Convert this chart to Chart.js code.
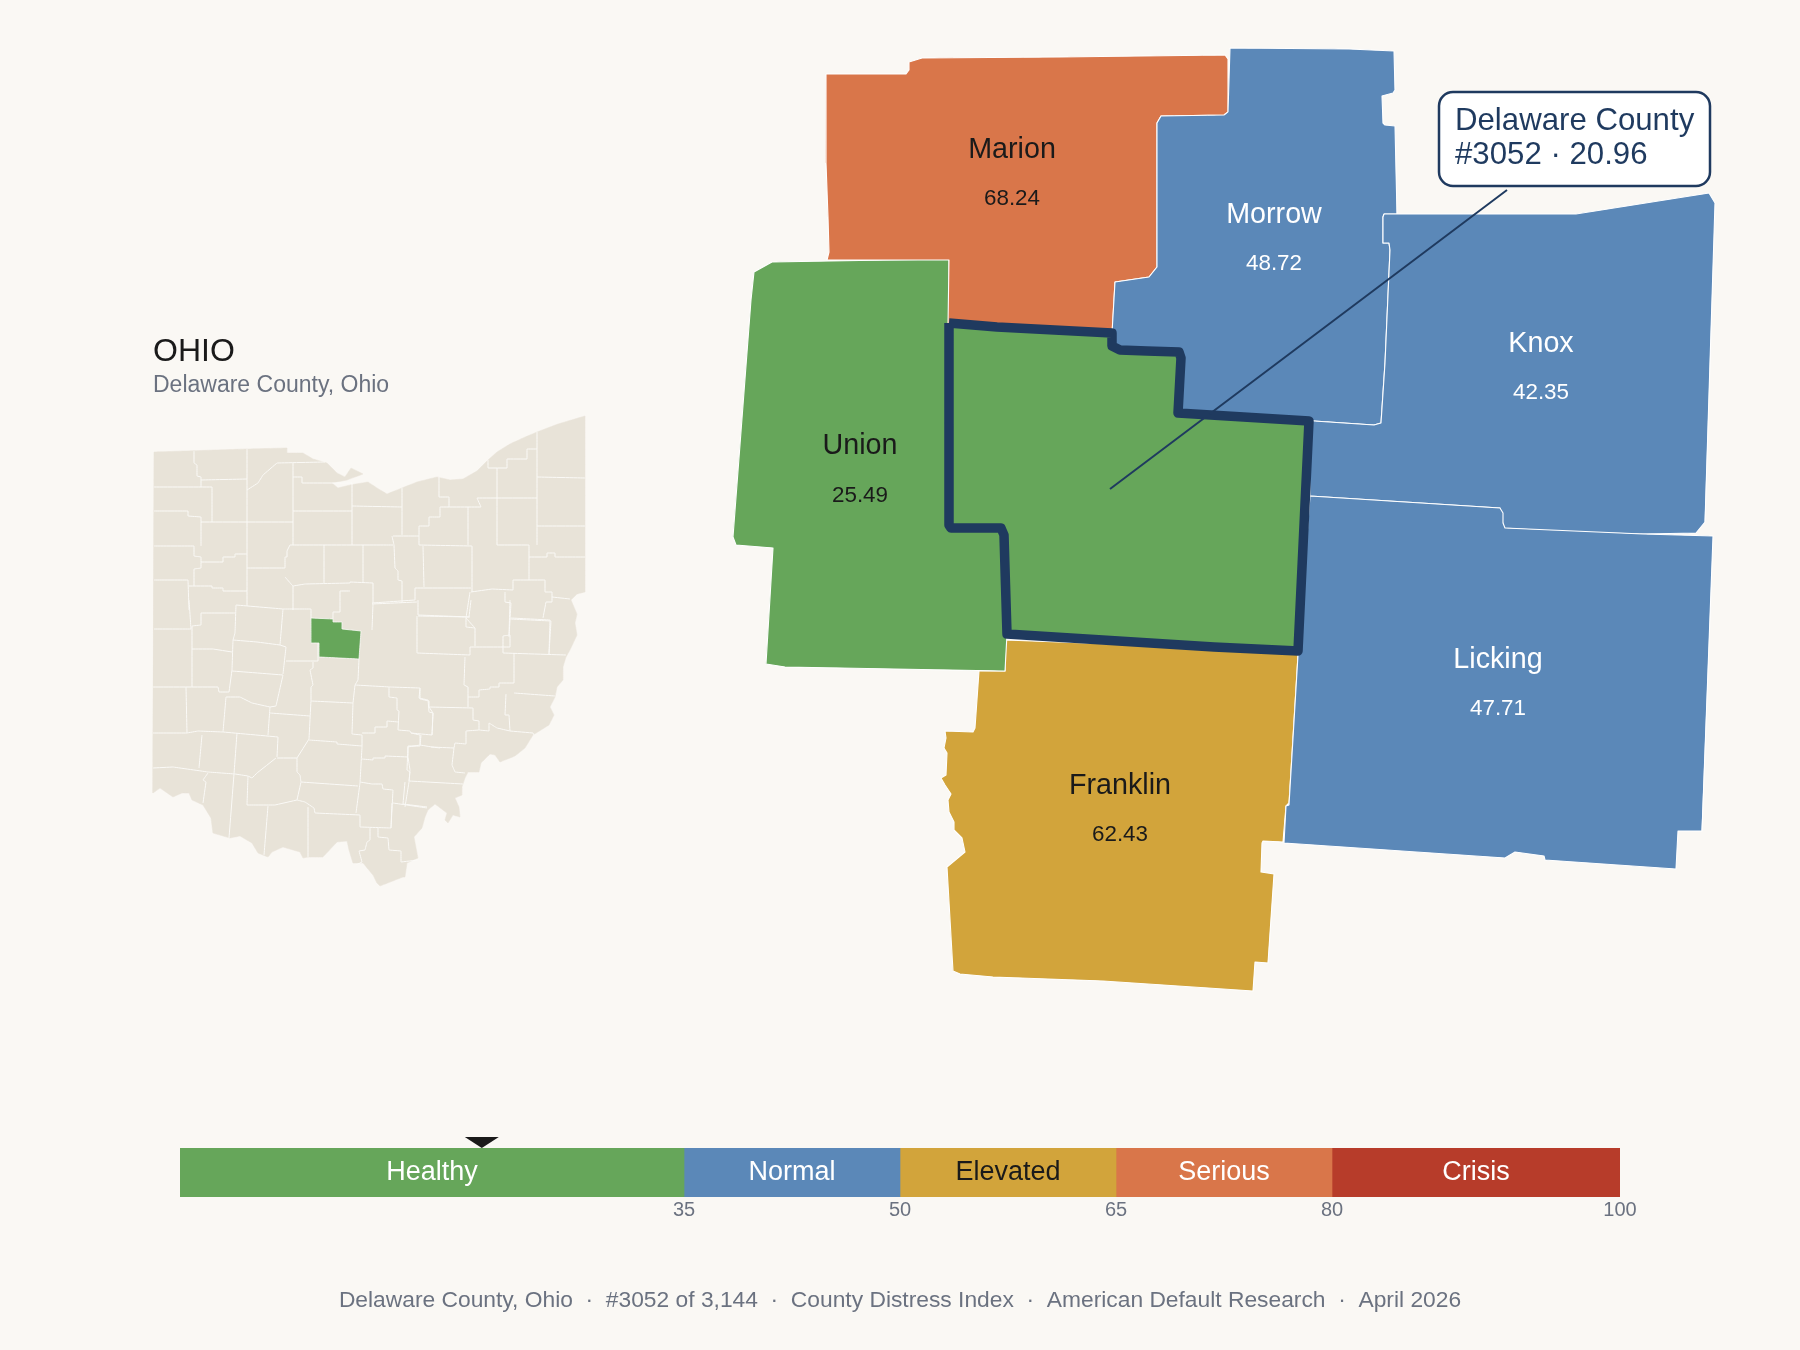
<!DOCTYPE html>
<html>
<head>
<meta charset="utf-8">
<title>Delaware County, Ohio</title>
<script src="https://cdn.jsdelivr.net/npm/chart.js@4"></script>
<style>
  html, body { margin: 0; padding: 0; background: #faf8f4; }
  #stage { position: relative; width: 1800px; height: 1350px; }
  canvas { position: absolute; left: 0; }
  #map { top: 0; }
  #bands { top: 1120px; }
</style>
</head>
<body>
<div id="stage">
  <canvas id="map" width="1800" height="1350"></canvas>
  <canvas id="bands" width="1800" height="110"></canvas>
</div>
<script>
// county names and scores
const countyNames = ['Franklin', 'Union', 'Marion', 'Morrow', 'Knox', 'Licking'];
const countyScores = [62.43, 25.49, 68.24, 48.72, 42.35, 47.71];

// bands of the index
const bandNames = ['Healthy', 'Normal', 'Elevated', 'Serious', 'Crisis'];
const bandWidths = [35, 15, 15, 15, 20];
const bandTicks = [35, 50, 65, 80, 100];
const delawareScore = 20.96;

// outlines, in picture units (0-1800, 0-1350)
const marionOutline = [[826,74],[906,74],[909,70],[909,62],[922,58],[1060,57],[1225,55],[1228,59],[1228,112],[1224,115],[1161,116],[1157,123],[1157,267],[1149,277],[1115,282],[1112,335],[948,325],[949,260],[827,260],[829,252],[828,217],[826,163],[826,74]];
const morrowOutline = [[1230,48],[1349,49],[1394,51],[1395,90],[1393,93],[1382,96],[1383,123],[1385,125],[1395,126],[1397,214],[1384,214],[1383,217],[1383,243],[1389,243],[1390,250],[1385,363],[1381,423],[1374,425],[1314,421],[1178,413],[1181,358],[1179,352],[1147,351],[1120,350],[1112,346],[1112,333],[1115,282],[1149,277],[1157,267],[1157,123],[1161,116],[1224,115],[1228,112],[1230,48]];
const knoxOutline = [[1384,214],[1576,214],[1709,193],[1715,203],[1705,522],[1696,533],[1643,534],[1569,532],[1504,528],[1502,520],[1500,508],[1310,496],[1309,421],[1314,421],[1374,425],[1381,423],[1385,363],[1390,250],[1389,243],[1383,243],[1383,217],[1384,214]];
const lickingOutline = [[1310,496],[1500,508],[1503,513],[1503,523],[1505,528],[1643,534],[1713,536],[1702,831],[1678,831],[1676,869],[1545,860],[1544,856],[1515,852],[1505,858],[1284,843],[1286,806],[1289,805],[1298,655],[1310,496]];
const unionOutline = [[754,272],[772,262],[948,259],[949,260],[949,525],[951,528],[1001,528],[1004,535],[1007,634],[1005,671],[1004,671],[785,667],[766,664],[773,548],[736,545],[733,537],[751,300],[754,272]];
const franklinOutline = [[1005,640],[1298,651],[1298,655],[1289,803],[1286,806],[1283,842],[1263,841],[1262,843],[1261,872],[1274,874],[1268,963],[1255,962],[1253,991],[1103,981],[993,977],[960,974],[953,971],[947,867],[965,852],[962,838],[954,830],[954,822],[949,812],[948,800],[951,794],[945,785],[941,778],[946,775],[947,753],[944,748],[946,738],[945,731],[973,732],[975,728],[979,671],[1005,671],[1005,640]];
const delawareOutline = [[949,323],[997,327],[1112,333],[1112,346],[1120,350],[1147,351],[1179,352],[1181,358],[1178,413],[1309,421],[1298,651],[1214,647],[1007,634],[1004,535],[1001,528],[951,528],[949,525],[949,323]];
const leaderLine = [[1110,489],[1507,190]];

// state locator map
const ohioOutline = [[154,452],[247,449],[287,448],[287,453],[303,453],[313,459],[327,463],[337,473],[345,477],[351,468],[363,474],[347,480],[332,483],[338,488],[350,485],[368,482],[377,488],[387,494],[402,488],[417,482],[437,477],[450,480],[463,479],[477,471],[488,460],[497,452],[510,444],[523,438],[537,432],[558,424],[585,416],[585,592],[577,594],[571,600],[577,614],[575,623],[577,635],[570,650],[566,657],[563,667],[563,680],[557,687],[555,697],[550,707],[554,715],[549,725],[533,735],[525,748],[515,756],[500,762],[495,755],[490,754],[481,763],[479,772],[468,772],[465,778],[462,787],[462,795],[455,798],[459,807],[460,817],[453,815],[448,823],[445,820],[447,813],[435,804],[428,810],[425,817],[422,828],[414,837],[418,858],[407,863],[405,877],[403,877],[380,886],[377,883],[373,875],[363,863],[353,863],[349,850],[347,841],[337,842],[323,857],[308,857],[303,858],[300,852],[283,847],[272,852],[268,857],[258,853],[252,843],[240,836],[230,838],[213,833],[211,818],[203,805],[192,800],[189,793],[182,793],[173,797],[160,788],[153,793],[154,452]];
const ohioDelaware = [[311,618],[333,619],[333,622],[342,622],[342,629],[361,631],[359,659],[319,657],[319,643],[311,643],[311,618]];
const ohioCountyLines = [
  [[194,451],[194,463],[197,465],[197,476],[201,477],[201,487]],
  [[154,487],[212,487],[212,522]],
  [[201,480],[247,479]],
  [[247,449],[247,606]],
  [[154,511],[188,511],[188,516],[201,517],[201,546]],
  [[201,522],[293,522]],
  [[154,546],[194,546],[194,556],[201,557],[201,568],[194,569],[194,586]],
  [[201,562],[223,562],[223,557],[235,557],[235,554],[247,554]],
  [[154,580],[188,580],[189,610]],
  [[189,586],[212,586],[212,588],[223,588],[223,591],[247,591]],
  [[247,568],[285,568],[285,557],[287,557],[287,551],[290,545],[393,545]],
  [[247,490],[258,483],[263,475],[277,463],[325,462]],
  [[293,463],[293,545]],
  [[293,477],[302,477],[302,483],[352,483]],
  [[293,511],[352,511]],
  [[352,483],[352,545]],
  [[352,506],[402,507]],
  [[402,488],[402,535]],
  [[392,536],[394,545],[395,568],[398,571],[398,580],[402,581],[402,603]],
  [[324,545],[324,583]],
  [[363,545],[363,582]],
  [[285,577],[292,585],[293,586],[305,584],[350,583],[350,582],[373,583],[373,603],[372,604],[417,602]],
  [[293,586],[293,610]],
  [[350,591],[340,591],[340,612],[333,612],[333,619]],
  [[488,460],[488,468],[507,468],[507,459],[527,459],[527,449],[537,449]],
  [[537,432],[537,545]],
  [[537,477],[585,478]],
  [[537,526],[585,526]],
  [[497,468],[497,545]],
  [[477,498],[537,498]],
  [[477,498],[481,507],[440,507],[440,517],[429,517],[429,526],[419,526],[419,536],[393,536]],
  [[439,477],[439,497],[449,497],[449,507]],
  [[468,507],[468,545]],
  [[419,536],[419,545],[472,546],[472,592]],
  [[497,545],[529,545],[529,580]],
  [[529,557],[547,557],[547,553],[555,553],[555,557],[585,557]],
  [[423,546],[424,587]],
  [[415,588],[471,588]],
  [[415,588],[415,600],[372,603]],
  [[418,600],[418,615],[470,617]],
  [[471,592],[492,589],[513,590],[513,580],[545,580],[545,592],[552,592],[552,602],[546,602],[543,618]],
  [[552,597],[570,599]],
  [[470,592],[466,618],[475,628],[475,646]],
  [[505,592],[505,602],[511,603],[509,637]],
  [[511,618],[550,620],[549,654]],
  [[373,604],[372,630]],
  [[236,605],[283,609],[311,609],[311,618]],
  [[236,605],[235,633],[233,640],[232,670],[229,692]],
  [[201,613],[235,613]],
  [[201,613],[201,625],[192,626],[192,687]],
  [[154,629],[191,629]],
  [[189,600],[191,629]],
  [[192,649],[213,649],[232,652]],
  [[233,640],[257,642],[280,645],[286,647],[283,674]],
  [[283,609],[280,645]],
  [[286,661],[318,661],[318,643]],
  [[232,671],[283,675],[276,706],[270,707],[252,703],[240,697],[226,697]],
  [[153,687],[218,687],[219,692],[229,692]],
  [[186,687],[187,733]],
  [[153,733],[187,733],[198,731],[223,732],[278,737],[277,757]],
  [[226,697],[223,732]],
  [[270,707],[268,735]],
  [[270,713],[310,716]],
  [[313,662],[313,668],[310,670],[313,685],[311,687],[311,700],[309,739],[297,758],[277,758]],
  [[311,701],[353,703],[352,734],[362,735],[362,747]],
  [[359,659],[358,680],[355,685],[353,703]],
  [[355,685],[390,687],[420,688],[419,698],[428,700],[429,712],[433,713],[432,735]],
  [[389,687],[389,697],[397,698],[397,710],[399,711],[398,730],[410,731],[411,733],[432,735]],
  [[362,733],[375,733],[375,727],[387,727],[387,721],[398,722]],
  [[362,747],[360,783],[356,813]],
  [[309,740],[337,742],[337,744],[362,746]],
  [[362,759],[373,760],[373,758],[385,758],[385,756],[408,757],[410,770],[409,782],[405,807]],
  [[411,733],[420,735],[420,745],[432,747],[440,748]],
  [[420,745],[408,747],[408,757]],
  [[360,782],[372,784],[382,784],[383,789],[393,790],[391,828],[360,827],[360,815]],
  [[297,758],[297,772],[300,775],[301,782],[358,786]],
  [[301,782],[297,800],[275,805],[247,805],[248,776]],
  [[235,774],[248,776],[252,778],[257,773],[276,758]],
  [[153,768],[173,767],[208,772],[235,774]],
  [[202,735],[199,768]],
  [[237,733],[234,774],[229,838]],
  [[208,773],[203,780],[206,782],[203,803]],
  [[268,806],[264,855]],
  [[297,800],[305,802],[314,808],[315,813],[360,815]],
  [[308,807],[308,857]],
  [[370,828],[370,840],[367,842],[365,850],[359,851],[362,862],[356,865]],
  [[378,828],[378,837],[388,838],[389,850],[401,851],[401,862],[418,860]],
  [[393,803],[427,808]],
  [[392,803],[391,828]],
  [[418,616],[469,617],[471,600]],
  [[466,618],[466,627],[475,628]],
  [[470,647],[510,647],[510,635],[503,636],[503,653],[566,655]],
  [[510,619],[551,621],[549,654]],
  [[510,600],[509,635]],
  [[417,616],[417,653],[470,655],[470,647]],
  [[465,657],[464,685],[468,687],[468,707]],
  [[514,653],[514,683],[499,683],[499,687],[490,687],[490,689],[479,690],[479,697],[468,697]],
  [[514,693],[555,696]],
  [[506,694],[505,715],[509,715],[510,731],[533,733],[534,735]],
  [[420,688],[420,699],[429,701],[429,707],[433,713],[432,735]],
  [[429,707],[473,708],[473,720],[479,721],[479,730],[466,731],[466,744],[455,743],[454,748],[431,747]],
  [[479,730],[489,731],[489,723],[497,728],[510,731]],
  [[454,748],[452,765],[455,772],[465,773]],
  [[408,746],[420,746],[421,735]],
  [[408,746],[407,770],[410,772],[409,781],[463,784]],
  [[405,782],[403,804],[427,807]]
];

const green = '#66a65a';
const blue = '#5b88b8';
const gold = '#d2a43b';
const orange = '#d9764a';
const red = '#b73c2a';
const navy = '#1f3a5f';
const ink = '#1a1a1a';
const grey = '#6b7280';
const land = '#e8e3d8';
const fontName = '"Liberation Sans", Arial, sans-serif';

const countyFills = [gold, green, orange, blue, blue, blue];
const countyInk = [ink, ink, ink, '#ffffff', '#ffffff', '#ffffff'];
const countyOutlines = [franklinOutline, unionOutline, marionOutline, morrowOutline, knoxOutline, lickingOutline];
// label anchor of each county: x, name baseline, value baseline
const countyLabelAt = [[1120,794,841],[860,454,502],[1012,158,205],[1274,223,270],[1541,352,399],[1498,668,715]];

const bandFills = [green, blue, gold, orange, red];
const bandInk = ['#ffffff', '#ffffff', ink, '#ffffff', '#ffffff'];

function toPoints(list) {
  return list.map(p => ({ x: p[0], y: p[1] }));
}

function polygon(list, fill, stroke, width) {
  return {
    data: toPoints(list),
    showLine: true,
    fill: 'shape',
    backgroundColor: fill,
    borderColor: stroke,
    borderWidth: width,
    borderJoinStyle: 'round',
    tension: 0.0001,
    pointRadius: 0,
    clip: false
  };
}

function polyline(list, stroke, width) {
  return {
    data: toPoints(list),
    showLine: true,
    fill: false,
    borderColor: stroke,
    borderWidth: width,
    borderJoinStyle: 'round',
    tension: 0.0001,
    pointRadius: 0,
    clip: false
  };
}

// paint order, first one at the bottom
const layers = [];
layers.push(polygon(ohioOutline, land, land, 0.5));
ohioCountyLines.forEach(l => layers.push(polyline(l, '#fbfaf7', 1)));
layers.push(polygon(ohioDelaware, green, '#fbfaf7', 0.8));
countyOutlines.forEach((o, i) => layers.push(polygon(o, countyFills[i], '#ffffff', 1.1)));
layers.push(polygon(delawareOutline, green, navy, 9.5));
layers.push(polyline(leaderLine, navy, 2));

function text(ctx, str, x, y, size, color, align) {
  ctx.font = size + 'px ' + fontName;
  ctx.fillStyle = color;
  ctx.textAlign = align || 'center';
  ctx.textBaseline = 'alphabetic';
  ctx.fillText(str, x, y);
}

const mapLabels = {
  id: 'mapLabels',
  afterDatasetsDraw(chart) {
    const ctx = chart.ctx;
    const sx = chart.scales.x;
    const sy = chart.scales.y;
    ctx.save();

    text(ctx, 'OHIO', sx.getPixelForValue(153), sy.getPixelForValue(361), 32, ink, 'left');
    text(ctx, 'Delaware County, Ohio', sx.getPixelForValue(153), sy.getPixelForValue(392), 23, grey, 'left');

    countyNames.forEach((name, i) => {
      const at = countyLabelAt[i];
      text(ctx, name, sx.getPixelForValue(at[0]), sy.getPixelForValue(at[1]), 28.7, countyInk[i]);
      text(ctx, countyScores[i].toFixed(2), sx.getPixelForValue(at[0]), sy.getPixelForValue(at[2]), 22.4, countyInk[i]);
    });

    // callout box
    ctx.beginPath();
    ctx.roundRect(sx.getPixelForValue(1439), sy.getPixelForValue(92), 271, 94, 14);
    ctx.fillStyle = '#ffffff';
    ctx.fill();
    ctx.lineWidth = 2.5;
    ctx.strokeStyle = navy;
    ctx.stroke();
    text(ctx, 'Delaware County', sx.getPixelForValue(1455), sy.getPixelForValue(130), 31.2, navy, 'left');
    text(ctx, '#3052 · ' + delawareScore.toFixed(2), sx.getPixelForValue(1455), sy.getPixelForValue(164), 31.2, navy, 'left');

    text(ctx, 'Delaware County, Ohio  ·  #3052 of 3,144  ·  County Distress Index  ·  American Default Research  ·  April 2026',
      sx.getPixelForValue(900), sy.getPixelForValue(1307), 22.8, grey);
    ctx.restore();
  }
};

new Chart(document.getElementById('map'), {
  type: 'scatter',
  data: { datasets: layers.slice().reverse() },
  options: {
    responsive: false,
    animation: false,
    events: [],
    layout: { padding: 0 },
    plugins: { legend: { display: false }, tooltip: { enabled: false } },
    scales: {
      x: { type: 'linear', min: 0, max: 1800, display: false },
      y: { type: 'linear', min: 0, max: 1350, reverse: true, display: false }
    }
  },
  plugins: [mapLabels]
});

const bandLabels = {
  id: 'bandLabels',
  afterDatasetsDraw(chart) {
    const ctx = chart.ctx;
    const sx = chart.scales.x;
    const area = chart.chartArea;
    ctx.save();
    let from = 0;
    bandNames.forEach((name, i) => {
      const mid = from + bandWidths[i] / 2;
      text(ctx, name, sx.getPixelForValue(mid), area.top + 32, 27, bandInk[i]);
      from += bandWidths[i];
    });
    // marker above the bar at Delaware's score
    const mx = sx.getPixelForValue(delawareScore);
    ctx.beginPath();
    ctx.moveTo(mx - 17, area.top - 11);
    ctx.lineTo(mx + 17, area.top - 11);
    ctx.lineTo(mx, area.top);
    ctx.closePath();
    ctx.fillStyle = ink;
    ctx.fill();
    ctx.restore();
  }
};

new Chart(document.getElementById('bands'), {
  type: 'bar',
  data: {
    labels: ['index'],
    datasets: bandNames.map((name, i) => ({
      label: name,
      data: [bandWidths[i]],
      backgroundColor: bandFills[i],
      borderWidth: 0,
      barPercentage: 1,
      categoryPercentage: 1
    }))
  },
  options: {
    indexAxis: 'y',
    responsive: false,
    animation: false,
    events: [],
    layout: { padding: { left: 180, right: 180, top: 28, bottom: 0 } },
    plugins: { legend: { display: false }, tooltip: { enabled: false } },
    scales: {
      x: {
        type: 'linear',
        stacked: true,
        min: 0,
        max: 100,
        grid: { display: false, drawTicks: false },
        border: { display: false },
        afterBuildTicks(axis) { axis.ticks = bandTicks.map(v => ({ value: v })); },
        afterFit(axis) { axis.height = 33; axis.paddingLeft = 0; axis.paddingRight = 0; },
        ticks: {
          autoSkip: false,
          maxRotation: 0,
          padding: 1,
          color: grey,
          font: { family: fontName, size: 20 }
        }
      },
      y: { stacked: true, display: false }
    }
  },
  plugins: [bandLabels]
});
</script>
</body>
</html>
